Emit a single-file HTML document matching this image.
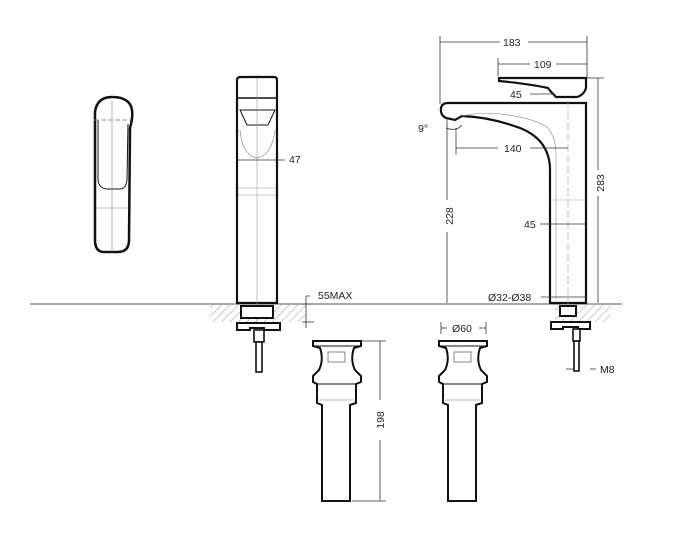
<!DOCTYPE html>
<html><head><meta charset="utf-8"><style>
html,body{margin:0;padding:0;background:#fff;}
svg{display:block;}
text{font-family:"Liberation Sans",sans-serif;font-size:10.5px;fill:#222;}
</style></head><body>
<svg width="677" height="556" viewBox="0 0 677 556" xmlns="http://www.w3.org/2000/svg">
<defs>
<pattern id="h" width="6" height="6" patternUnits="userSpaceOnUse" patternTransform="rotate(45)">
<line x1="0" y1="0" x2="0" y2="6" stroke="#999" stroke-width="1"/>
</pattern>
<g id="drain" fill="#fff" stroke="#111" stroke-width="2">
<path d="M0,341 L48,341 L48,346 L41,348 Q37,360 42,370 L48,376 L48,382 L43,384 L43,403 L37,405 L37,501 L9,501 L9,405 L4,403 L4,384 L0,382 L0,376 L6,370 Q11,360 7,348 L0,346 Z"/>
<line x1="2" y1="346" x2="46" y2="346" stroke-width="1"/>
<line x1="4" y1="384" x2="43" y2="384" stroke-width="1"/>
<line x1="6" y1="400" x2="41" y2="400" stroke-width="0.6" stroke="#777"/>
<rect x="15" y="352" width="17" height="10" stroke-width="0.8" stroke="#666"/>
</g>
</defs>
<rect width="677" height="556" fill="#fff"/>
<line x1="30" y1="304" x2="622" y2="304" stroke="#555" stroke-width="1"/>
<rect x="210" y="305" width="95" height="17" fill="url(#h)"/>
<rect x="555" y="305" width="56" height="17" fill="url(#h)"/>
<g fill="none" stroke="#111">
<path d="M95,112 Q97,97 112,97 Q130,97 132,110 Q133,118 130,128 L129,240 Q129,252 118,252 L104,252 Q95,252 95,240 Z" stroke-width="2.5"/>
<path d="M98,120 L98,180 Q99,189 108,189 L120,189 Q126,189 127,180 L128,124" stroke-width="1"/>
<line x1="94" y1="120" x2="131" y2="120" stroke="#777" stroke-width="0.7" stroke-dasharray="5,2"/>
<line x1="112" y1="100" x2="112" y2="252" stroke="#888" stroke-width="0.6"/>
<line x1="96" y1="208" x2="129" y2="208" stroke="#888" stroke-width="0.6"/>
</g>
<g fill="none" stroke="#111">
<path d="M237,303 L237,80 Q237,77 241,77 L274,77 Q277,77 277,80 L277,303 Z" stroke-width="2.2"/>
<line x1="237" y1="98" x2="277" y2="98" stroke-width="1.5"/>
<path d="M240,110 L275,110 L268,125 L247,125 Z" stroke-width="1"/>
<path d="M240,130 Q242,155 257,158 Q272,155 275,130" stroke="#888" stroke-width="0.7"/>
<line x1="257" y1="78" x2="257" y2="372" stroke="#999" stroke-width="0.6"/>
<line x1="238" y1="160" x2="285" y2="160" stroke="#333" stroke-width="0.8"/>
<line x1="238" y1="188" x2="276" y2="188" stroke="#999" stroke-width="0.6"/>
<line x1="238" y1="195" x2="276" y2="195" stroke="#999" stroke-width="0.6"/>
<rect x="241" y="306" width="32" height="12" stroke-width="2" fill="#fff"/>
<path d="M237,323 L280,323 L280,330 L264,330 L264,328 L250,328 L250,330 L237,330 Z" stroke-width="2" fill="#fff"/>
<rect x="254" y="330" width="10" height="12" stroke-width="1.6" fill="#fff"/>
<rect x="256" y="342" width="6" height="30" stroke-width="1.6" fill="#fff"/>
</g>
<text x="289" y="163">47</text>
<g stroke="#333" stroke-width="0.8" fill="none">
<path d="M310,296 L306,296 L306,328"/>
<line x1="302" y1="304" x2="314" y2="304"/>
<line x1="302" y1="322" x2="314" y2="322"/>
</g>
<text x="318" y="299">55MAX</text>
<use href="#drain" transform="translate(313,0)"/>
<use href="#drain" transform="translate(439,0)"/>
<g stroke="#333" stroke-width="0.8" fill="none">
<line x1="360" y1="341" x2="386" y2="341"/>
<line x1="352" y1="501" x2="386" y2="501"/>
<line x1="380" y1="341" x2="380" y2="400"/>
<line x1="380" y1="440" x2="380" y2="501"/>
<line x1="441" y1="322" x2="441" y2="334"/>
<line x1="486" y1="322" x2="486" y2="334"/>
<line x1="441" y1="328" x2="447" y2="328"/>
<line x1="479" y1="328" x2="486" y2="328"/>
</g>
<text x="384" y="420" transform="rotate(-90 384 420)" text-anchor="middle">198</text>
<text x="452" y="332">Ø60</text>
<g fill="none" stroke="#111">
<path d="M499,78 L586,78 L586,88 Q584,95 577,97 L556,97 Q551,92 548,88 Q530,84 499,81 Z" stroke-width="2.2" fill="#fff"/>
<path d="M550,303 L550,170 Q550,140 520,128 Q490,117 462,116 L455,120 L446,118 Q440,115 441,108 Q442,103 448,103 L586,103 L586,303 Z" stroke-width="2.2"/>
<path d="M462,116 Q480,112 500,114 Q535,118 548,128 Q556,138 556,155 L556,300" stroke="#999" stroke-width="0.7"/>
<line x1="568" y1="100" x2="568" y2="305" stroke="#999" stroke-width="0.6" stroke-dasharray="8,3"/>
<line x1="550" y1="200" x2="586" y2="200" stroke="#aaa" stroke-width="0.6"/>
<rect x="560" y="306" width="16" height="10" stroke-width="2" fill="#fff"/>
<path d="M551,322 L590,322 L590,329 L578,329 L578,327 L563,327 L563,329 L551,329 Z" stroke-width="2" fill="#fff"/>
<rect x="573" y="329" width="7" height="12" stroke-width="1.6" fill="#fff"/>
<rect x="574" y="341" width="5" height="30" stroke-width="1.6" fill="#fff"/>
</g>
<g stroke="#333" stroke-width="0.8" fill="none">
<line x1="440" y1="36" x2="440" y2="104"/>
<line x1="587" y1="36" x2="587" y2="78"/>
<line x1="440" y1="42" x2="500" y2="42"/>
<line x1="528" y1="42" x2="587" y2="42"/>
<line x1="498" y1="58" x2="498" y2="76"/>
<line x1="498" y1="64" x2="530" y2="64"/>
<line x1="556" y1="64" x2="587" y2="64"/>
<line x1="530" y1="94" x2="555" y2="94"/>
<line x1="587" y1="78" x2="604" y2="78"/>
<line x1="598" y1="78" x2="598" y2="170"/>
<line x1="598" y1="196" x2="598" y2="303"/>
<line x1="447" y1="118" x2="447" y2="200"/>
<line x1="447" y1="232" x2="447" y2="303"/>
<line x1="456" y1="128" x2="456" y2="155"/>
<line x1="456" y1="148" x2="498" y2="148"/>
<line x1="530" y1="148" x2="568" y2="148"/>
<line x1="540" y1="224" x2="586" y2="224"/>
<line x1="541" y1="297" x2="586" y2="297"/>
<path d="M446,128 Q456,132 462,125"/>
<line x1="590" y1="369" x2="596" y2="369"/>
<line x1="566" y1="369" x2="574" y2="369"/>
</g>
<text x="503" y="46">183</text>
<text x="534" y="68">109</text>
<text x="510" y="98">45</text>
<text x="418" y="132">9°</text>
<text x="504" y="152">140</text>
<text x="524" y="228">45</text>
<text x="488" y="301">Ø32-Ø38</text>
<text x="600" y="373">M8</text>
<text x="604" y="183" transform="rotate(-90 604 183)" text-anchor="middle">283</text>
<text x="453" y="216" transform="rotate(-90 453 216)" text-anchor="middle">228</text>
</svg>
</body></html>
